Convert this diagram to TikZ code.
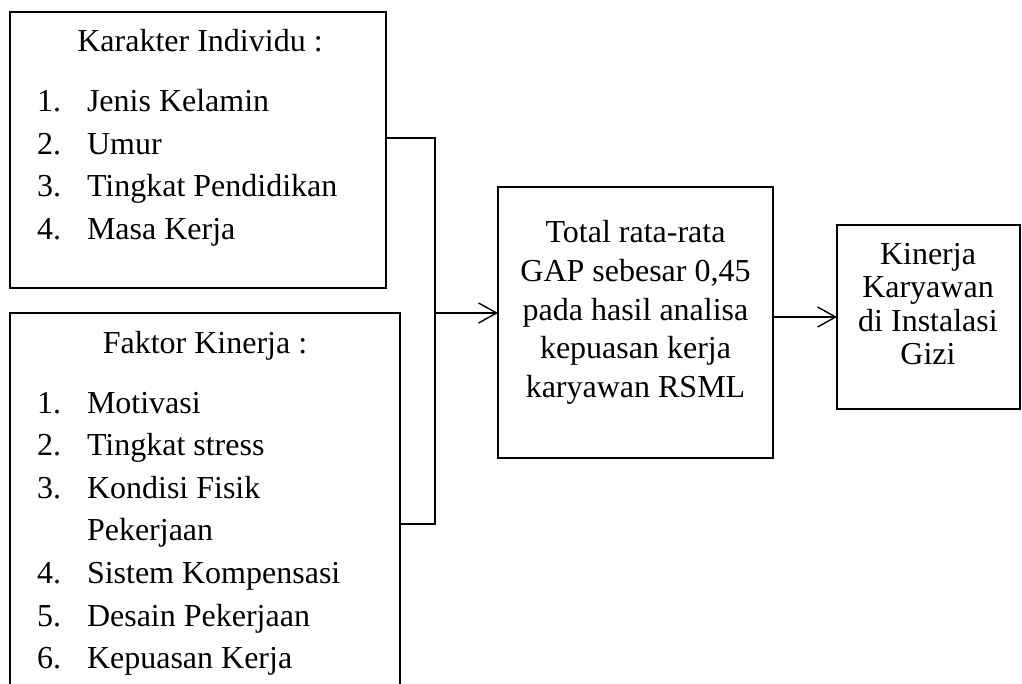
\documentclass[tikz,border=0pt]{standalone}
\usepackage{fontspec}
\setmainfont{Liberation Serif}
\usetikzlibrary{arrows.meta}
\begin{document}
\begin{tikzpicture}[x=1pt,y=-1pt,
  boxshape/.style={draw, line width=1.4pt, rectangle, inner sep=0pt, outer sep=0pt, anchor=north west},
  txt/.style={inner sep=0pt, outer sep=0pt, anchor=base west, font=\fontsize{32}{38}\selectfont},
  ctxt/.style={txt, anchor=base},
  conn/.style={line width=1.4pt},
  arr/.style={line width=1.4pt, -{Straight Barb[length=18pt,width=20pt,line width=1.4pt]}}]
\clip (0,0) rectangle (1022,684);
\useasboundingbox (0,0) rectangle (1022,684);
% boxes
\node[boxshape, minimum width=376pt, minimum height=276pt] (b1) at (10,12) {};
\node[boxshape, minimum width=390pt, minimum height=420pt] (b2) at (10,313) {};
\node[boxshape, minimum width=275pt, minimum height=271pt] (b3) at (498,187) {};
\node[boxshape, minimum width=183pt, minimum height=184pt] (b4) at (837,225) {};
% box 1 text
\node[ctxt] (t1) at (200,52) {Karakter Individu :};
\node[txt] (n11) at (37,112) {1.};
\node[txt] (i11) at (87,112) {Jenis Kelamin};
\node[txt] (n12) at (37,155) {2.};
\node[txt] (i12) at (87,155) {Umur};
\node[txt] (n13) at (37,197) {3.};
\node[txt] (i13) at (87,197) {Tingkat Pendidikan};
\node[txt] (n14) at (37,240) {4.};
\node[txt] (i14) at (87,240) {Masa Kerja};
% box 2 text
\node[ctxt] (t2) at (205,353) {Faktor Kinerja :};
\node[txt] (n21) at (37,413) {1.};
\node[txt] (i21) at (87,413) {Motivasi};
\node[txt] (n22) at (37,455) {2.};
\node[txt] (i22) at (87,455) {Tingkat stress};
\node[txt] (n23) at (37,498) {3.};
\node[txt] (i23) at (87,498) {Kondisi Fisik};
\node[txt] (i23b) at (87,540) {Pekerjaan};
\node[txt] (n24) at (37,583) {4.};
\node[txt] (i24) at (87,583) {Sistem Kompensasi};
\node[txt] (n25) at (37,626) {5.};
\node[txt] (i25) at (87,626) {Desain Pekerjaan};
\node[txt] (n26) at (37,668) {6.};
\node[txt] (i26) at (87,668) {Kepuasan Kerja};
% box 3 text
\node[ctxt] (c1) at (635.5,243) {Total rata-rata};
\node[ctxt] (c2) at (635.5,282) {GAP sebesar 0,45};
\node[ctxt] (c3) at (635.5,320) {pada hasil analisa};
\node[ctxt] (c4) at (635.5,358) {kepuasan kerja};
\node[ctxt] (c5) at (635.5,397) {karyawan RSML};
% box 4 text
\node[ctxt] (d1) at (928,265) {Kinerja};
\node[ctxt] (d2) at (928,298) {Karyawan};
\node[ctxt] (d3) at (928,331) {di Instalasi};
\node[ctxt] (d4) at (928,364) {Gizi};
% connectors
\coordinate (j1) at (435,138);
\coordinate (j2) at (435,524);
\coordinate (jm) at (435,313);
\draw[conn] (b1.east |- j1) -- (j1) -- (j2) -- (b2.east |- j2);
\draw[arr] (jm) -- (b3.west |- jm);
\draw[arr] (b3.east |- b4.west) -- (b4.west);
\end{tikzpicture}
\end{document}
